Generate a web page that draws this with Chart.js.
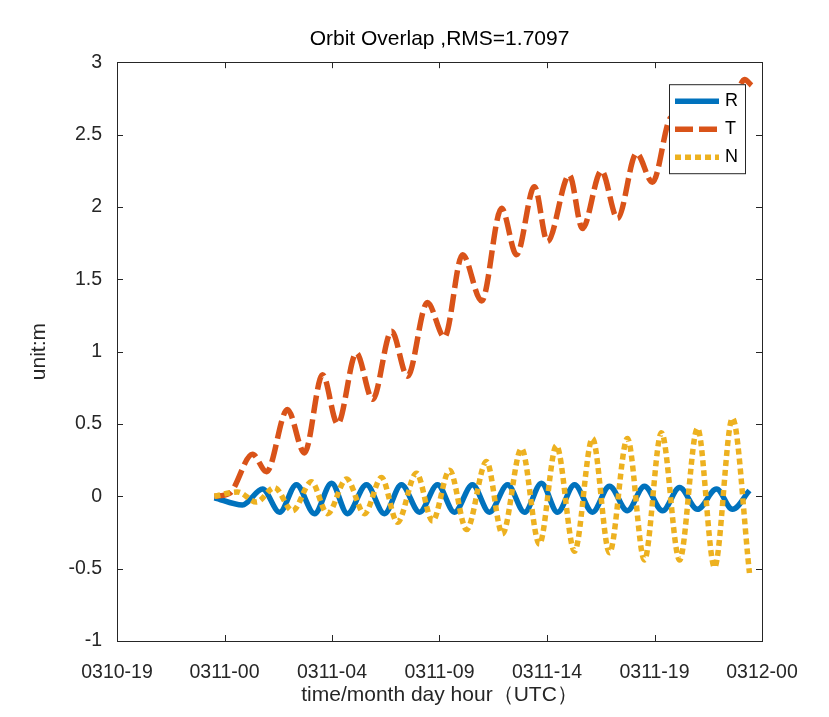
<!DOCTYPE html>
<html>
<head>
<meta charset="utf-8">
<script src="https://cdn.jsdelivr.net/npm/chart.js@4.4.1/dist/chart.umd.min.js"></script>
<style>
  html, body { margin: 0; padding: 0; background: #fff; }
  #wrap { width: 829px; height: 717px; }
</style>
</head>
<body>
<div id="wrap"><canvas id="orbit" width="829" height="717"></canvas></div>
<script>
// hours relative to 0311-00 UTC
const xTickPos = [-4.8, 0, 4.8, 9.6, 14.4, 19.2, 24];
const xTickLabels = ['0310-19', '0311-00', '0311-04', '0311-09', '0311-14', '0311-19', '0312-00'];

const rHours = [-0.45, 0.80, 1.70, 2.46, 3.21, 4.02, 4.78, 5.49, 6.34, 7.14, 7.90, 8.71, 9.51, 10.27, 11.07, 11.83,
  12.64, 13.40, 14.15, 14.87, 15.63, 16.43, 17.19, 17.99, 18.75, 19.56, 20.32, 21.12, 21.97, 22.68, 23.44];
const rValues = [-0.01, -0.06, 0.05, -0.11, 0.08, -0.12, 0.09, -0.12, 0.08, -0.12, 0.08, -0.11, 0.08, -0.11, 0.08, -0.11,
  0.08, -0.11, 0.09, -0.11, 0.08, -0.11, 0.07, -0.10, 0.07, -0.10, 0.06, -0.09, 0.05, -0.09, 0.04];

const tHours = [-0.45, 0.22, 1.25, 1.88, 2.81, 3.57, 4.38, 5.05, 5.89, 6.61, 7.46, 8.17, 9.06, 9.82, 10.63, 11.48,
  12.37, 13.04, 13.84, 14.42, 15.40, 15.98, 16.83, 17.55, 18.40, 19.11, 19.96, 20.76, 21.66, 22.46, 23.22, 23.53];
const tValues = [0.00, 0.02, 0.29, 0.17, 0.60, 0.30, 0.84, 0.50, 0.99, 0.67, 1.14, 0.83, 1.34, 1.10, 1.67, 1.35,
  1.99, 1.67, 2.14, 1.76, 2.22, 1.85, 2.25, 1.92, 2.37, 2.17, 2.62, 2.45, 2.72, 2.60, 2.88, 2.84];

const nHours = [-0.45, 0.58, 1.43, 2.23, 3.04, 3.88, 4.60, 5.45, 6.25, 7.01, 7.72, 8.57, 9.29, 10.05, 10.81, 11.70,
  12.41, 13.26, 14.06, 14.82, 15.63, 16.43, 17.19, 17.99, 18.75, 19.51, 20.32, 21.12, 21.88, 22.68, 23.44];
const nValues = [0.00, 0.03, -0.04, 0.06, -0.10, 0.10, -0.12, 0.12, -0.12, 0.13, -0.18, 0.16, -0.17, 0.18, -0.23, 0.24,
  -0.26, 0.33, -0.33, 0.35, -0.38, 0.40, -0.39, 0.40, -0.44, 0.44, -0.44, 0.47, -0.49, 0.54, -0.53];

const FONT = '"Liberation Sans", Arial, Helvetica, sans-serif';
const AXIS_COLOR = '#262626';

function toPoints(xs, ys) {
  return xs.map((x, i) => ({ x, y: ys[i] }));
}

// opaque legend box in the upper right, like matlab's
const boxLegend = {
  id: 'boxLegend',
  afterDatasetsDraw(chart) {
    const { ctx, chartArea: a } = chart;
    const w = 76, h = 89;
    const x0 = a.right - 17 - w, y0 = a.top + 22;
    ctx.save();
    ctx.fillStyle = '#fff';
    ctx.fillRect(x0, y0, w, h);
    ctx.strokeStyle = AXIS_COLOR;
    ctx.lineWidth = 1;
    ctx.strokeRect(x0 + 0.5, y0 + 0.5, w, h);
    chart.data.datasets.forEach((ds, i) => {
      const y = y0 + 17 + i * 28;
      ctx.beginPath();
      ctx.strokeStyle = ds.borderColor;
      ctx.lineWidth = ds.borderWidth;
      ctx.lineCap = 'butt';
      ctx.setLineDash(ds.borderDash || []);
      ctx.moveTo(x0 + 6, y);
      ctx.lineTo(x0 + 50, y);
      ctx.stroke();
      ctx.setLineDash([]);
      ctx.fillStyle = '#000';
      ctx.font = '18px ' + FONT;
      ctx.textBaseline = 'middle';
      ctx.textAlign = 'left';
      ctx.fillText(ds.label, x0 + 56, y);
    });
    ctx.restore();
  }
};

// full box with inward ticks on all four sides
const matlabBox = {
  id: 'matlabBox',
  afterDraw(chart) {
    const { ctx, chartArea: a, scales } = chart;
    ctx.save();
    ctx.strokeStyle = AXIS_COLOR;
    ctx.lineWidth = 1;
    ctx.beginPath();
    scales.x.ticks.forEach(t => {
      const px = Math.round(scales.x.getPixelForValue(t.value)) + 0.5;
      ctx.moveTo(px, a.bottom); ctx.lineTo(px, a.bottom - 6);
      ctx.moveTo(px, a.top); ctx.lineTo(px, a.top + 6);
    });
    scales.y.ticks.forEach(t => {
      const py = Math.round(scales.y.getPixelForValue(t.value)) + 0.5;
      ctx.moveTo(a.left, py); ctx.lineTo(a.left + 6, py);
      ctx.moveTo(a.right, py); ctx.lineTo(a.right - 6, py);
    });
    ctx.stroke();
    ctx.strokeRect(Math.round(a.left) + 0.5, Math.round(a.top) + 0.5,
      Math.round(a.right - a.left), Math.round(a.bottom - a.top));
    ctx.restore();
  }
};

Chart.defaults.font.family = FONT;

const ctx = document.getElementById('orbit').getContext('2d');
new Chart(ctx, {
  type: 'line',
  data: {
    datasets: [
      { label: 'R', data: toPoints(rHours, rValues), borderColor: '#0072BD', borderWidth: 5.5, order: 3 },
      { label: 'T', data: toPoints(tHours, tValues), borderColor: '#D95319', borderWidth: 5.5, borderDash: [18, 6], order: 2 },
      { label: 'N', data: toPoints(nHours, nValues), borderColor: '#EDB120', borderWidth: 5.5, borderDash: [6, 4], order: 1 },
    ],
  },
  options: {
    responsive: false,
    animation: false,
    layout: { padding: { left: 0, right: 67, top: 0, bottom: 0 } },
    elements: {
      point: { radius: 0 },
      line: { cubicInterpolationMode: 'monotone', borderCapStyle: 'butt', borderJoinStyle: 'round' },
    },
    scales: {
      x: {
        type: 'linear',
        min: -4.8,
        max: 24,
        afterBuildTicks: s => { s.ticks = xTickPos.map(v => ({ value: v })); },
        afterFit: s => { s.height = 76; },
        grid: { display: false },
        border: { display: false },
        ticks: {
          autoSkip: false, maxRotation: 0, padding: 12, color: AXIS_COLOR,
          font: { size: 19.5 },
          callback: (v, i) => xTickLabels[i],
        },
        title: {
          display: true, text: 'time/month day hour（UTC）', color: AXIS_COLOR,
          font: { size: 21 }, padding: { top: 0, bottom: 9 },
        },
      },
      y: {
        min: -1,
        max: 3,
        afterFit: s => { s.width = 117; },
        grid: { display: false },
        border: { display: false },
        ticks: {
          stepSize: 0.5, padding: 7, color: AXIS_COLOR,
          font: { size: 19.5 },
          callback: v => String(Math.round(v * 10) / 10),
        },
        title: {
          display: true, text: 'unit:m', color: AXIS_COLOR,
          font: { size: 21 }, padding: { top: 27, bottom: 0 },
        },
      },
    },
    plugins: {
      legend: { display: false },
      tooltip: { enabled: false },
      title: {
        display: true, text: 'Orbit Overlap ,RMS=1.7097', fullSize: false, color: '#000',
        font: { size: 21, weight: 'normal' }, padding: { top: 27, bottom: 10 },
      },
    },
  },
  plugins: [boxLegend, matlabBox],
});
</script>
</body>
</html>
